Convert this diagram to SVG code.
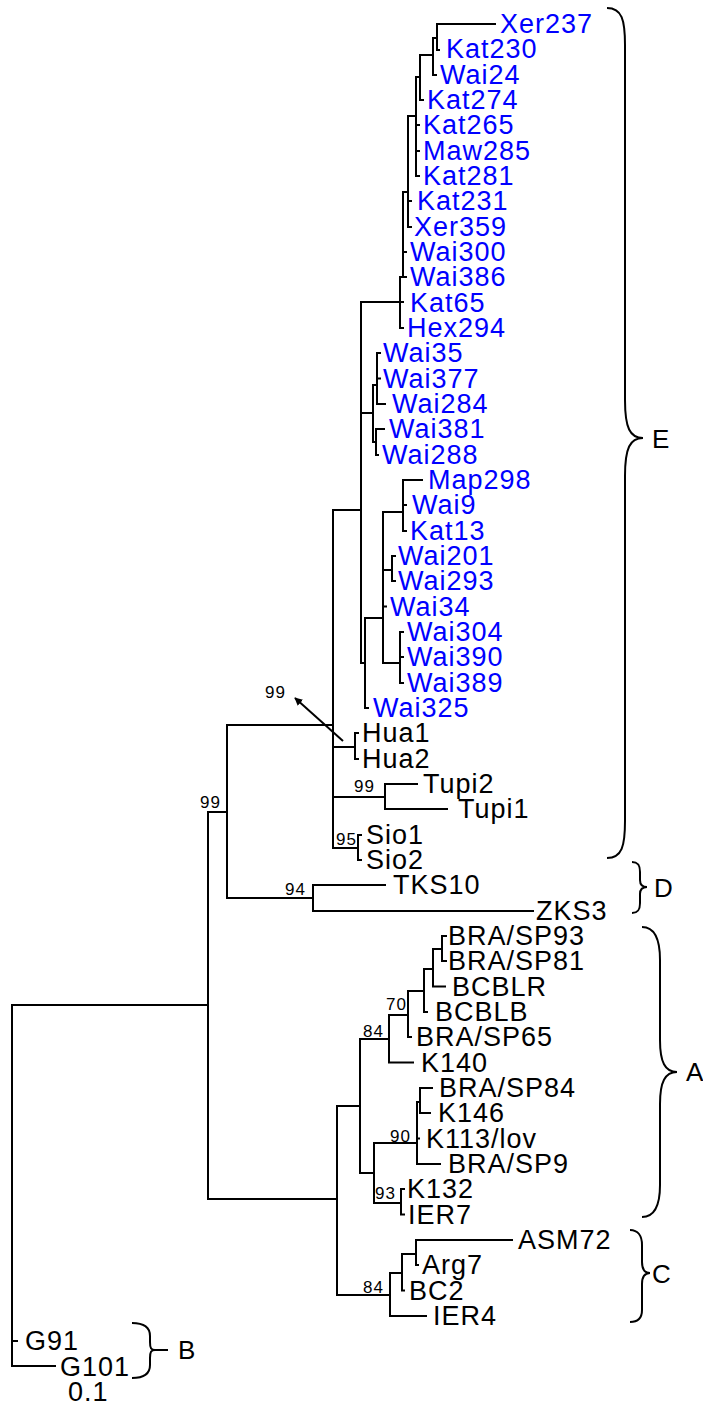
<svg xmlns="http://www.w3.org/2000/svg" width="703" height="1408" viewBox="0 0 703 1408">
<style>
.br{fill:none;stroke:#000;stroke-width:2;stroke-linecap:square}
.t{font-family:"Liberation Sans",Arial,sans-serif;font-size:27px;letter-spacing:1px;fill:#000}
.b{fill:#0000ff}
.s{font-family:"Liberation Sans",Arial,sans-serif;font-size:17px;letter-spacing:1px;fill:#000}
.brace{fill:none;stroke:#000;stroke-width:2}
.cl{font-family:"Liberation Sans",Arial,sans-serif;font-size:26px;fill:#000}
</style>
<defs>
<marker id="ah" viewBox="0 0 10 10" refX="9" refY="5" markerWidth="8" markerHeight="8" markerUnits="userSpaceOnUse" orient="auto">
<path d="M0,0 L10,5 L0,10 z" fill="#000"/>
</marker>
</defs>
<rect width="703" height="1408" fill="#fff"/>
<g id="connectors">
<path class="br" d="M437,24 H495 M437,24 V50 H439 M433,38 H437 M433,38 V75 H436 M420,55 H433 M420,55 V100 H423 M416,77 H420 M416,77 V176 H419 M416,125 H419 M416,151 H419 M408,116 H416 M408,116 V227 H411 M408,201 H411 M403,192 H408 M403,192 V277 H406 M403,252 H406 M400,277 H403 M400,277 V328 H403 M400,302 H403 M361,302 H400"/>
<path class="br" d="M361,413 H373 M373,385 V442 M373,385 H377 M377,353 V404 H385 M377,353 H380 M377,378.6 H380 M373,442 H376 M376,429 V455 H378 M376,429 H384"/>
<path class="br" d="M361,302 V663 H365 M365,618 V708 H368 M365,618 H383 M383,512 V663 H400 M383,512 H403 M403,480 V531 H406 M403,480 H422 M403,505 H406 M383,570 H392 M392,556 V581 H395 M392,556 H395 M383,606.6 H386 M400,632 V683 H403 M400,632 H403 M400,657 H403"/>
<path class="br" d="M333,510 H361 M333,510 V848 H358 M358,835 V860 H361 M358,835 H361 M333,747 H355 M355,733 V759 H358 M355,733 H358 M333,797 H385 M385,784 V809 M385,784 H417 M385,809 H447"/>
<path class="br" d="M227,725 H333 M227,725 V898 H313 M313,885 V911 M313,885 H385 M313,911 H533 M208,812 H227 M208,812 V1199 H337 M12,1005 H208 M12,1005 V1366 H55 M12,1341 H17"/>
<path class="br" d="M442,936 V961 H446 M442,936 H446 M433,949 H442 M433,949 V986.5 H445 M424,969 H433 M424,969 V1012 H427 M408,991 H424 M408,991 V1037 H411 M389,1015 H408 M389,1015 V1062.5 H413 M360,1039 H389 M360,1039 V1173 H374 M374,1143 V1203 H401 M374,1143 H417 M417,1102 V1164 H440 M417,1102 H420 M417,1138.5 H419 M420,1088 V1113 H430 M420,1088 H432 M401,1189 V1214.5 H404 M401,1189 H404 M337,1106 V1295 M337,1106 H360 M337,1295 H390 M390,1273 V1316 H426 M390,1273 H402 M402,1254 V1290.5 H404 M402,1254 H416 M416,1240 V1265 H418 M416,1240 H512"/>
<line x1="343" y1="741" x2="295" y2="698" stroke="#000" stroke-width="2" marker-end="url(#ah)"/>
</g>
<g id="support">
<text class="s" x="265" y="698">99</text>
<text class="s" x="200" y="808">99</text>
<text class="s" x="354" y="792">99</text>
<text class="s" x="336" y="845">95</text>
<text class="s" x="285" y="895">94</text>
<text class="s" x="386" y="1010">70</text>
<text class="s" x="363" y="1037">84</text>
<text class="s" x="390" y="1142">90</text>
<text class="s" x="375" y="1199">93</text>
<text class="s" x="363" y="1293">84</text>
</g>
<g id="n-Xer237"><text class="t b" x="500" y="33">Xer237</text></g>
<g id="n-Kat230"><text class="t b" x="446" y="58">Kat230</text></g>
<g id="n-Wai24"><text class="t b" x="440" y="84">Wai24</text></g>
<g id="n-Kat274"><text class="t b" x="427" y="109">Kat274</text></g>
<g id="n-Kat265"><text class="t b" x="423" y="134">Kat265</text></g>
<g id="n-Maw285"><text class="t b" x="423" y="160">Maw285</text></g>
<g id="n-Kat281"><text class="t b" x="423" y="185">Kat281</text></g>
<g id="n-Kat231"><text class="t b" x="417" y="210">Kat231</text></g>
<g id="n-Xer359"><text class="t b" x="414" y="236">Xer359</text></g>
<g id="n-Wai300"><text class="t b" x="410" y="261">Wai300</text></g>
<g id="n-Wai386"><text class="t b" x="410" y="286">Wai386</text></g>
<g id="n-Kat65"><text class="t b" x="410" y="312">Kat65</text></g>
<g id="n-Hex294"><text class="t b" x="407" y="337">Hex294</text></g>
<g id="n-Wai35"><text class="t b" x="383" y="362">Wai35</text></g>
<g id="n-Wai377"><text class="t b" x="383" y="388">Wai377</text></g>
<g id="n-Wai284"><text class="t b" x="392" y="413">Wai284</text></g>
<g id="n-Wai381"><text class="t b" x="389" y="438">Wai381</text></g>
<g id="n-Wai288"><text class="t b" x="382" y="464">Wai288</text></g>
<g id="n-Map298"><text class="t b" x="428" y="489">Map298</text></g>
<g id="n-Wai9"><text class="t b" x="412" y="514">Wai9</text></g>
<g id="n-Kat13"><text class="t b" x="410" y="540">Kat13</text></g>
<g id="n-Wai201"><text class="t b" x="398" y="565">Wai201</text></g>
<g id="n-Wai293"><text class="t b" x="398" y="590">Wai293</text></g>
<g id="n-Wai34"><text class="t b" x="390" y="616">Wai34</text></g>
<g id="n-Wai304"><text class="t b" x="407" y="641">Wai304</text></g>
<g id="n-Wai390"><text class="t b" x="407" y="666">Wai390</text></g>
<g id="n-Wai389"><text class="t b" x="407" y="692">Wai389</text></g>
<g id="n-Wai325"><text class="t b" x="373" y="717">Wai325</text></g>
<g id="n-Hua1"><text class="t" x="362" y="742">Hua1</text></g>
<g id="n-Hua2"><text class="t" x="362" y="768">Hua2</text></g>
<g id="n-Tupi2"><text class="t" x="423" y="793">Tupi2</text></g>
<g id="n-Tupi1"><text class="t" x="458" y="818">Tupi1</text></g>
<g id="n-Sio1"><text class="t" x="366" y="844">Sio1</text></g>
<g id="n-Sio2"><text class="t" x="366" y="869">Sio2</text></g>
<g id="n-TKS10"><text class="t" x="393" y="894">TKS10</text></g>
<g id="n-ZKS3"><text class="t" x="536" y="920">ZKS3</text></g>
<g id="n-BRASP93"><text class="t" x="448" y="945">BRA/SP93</text></g>
<g id="n-BRASP81"><text class="t" x="448" y="970">BRA/SP81</text></g>
<g id="n-BCBLR"><text class="t" x="452" y="996">BCBLR</text></g>
<g id="n-BCBLB"><text class="t" x="435" y="1021">BCBLB</text></g>
<g id="n-BRASP65"><text class="t" x="416" y="1046">BRA/SP65</text></g>
<g id="n-K140"><text class="t" x="421" y="1072">K140</text></g>
<g id="n-BRASP84"><text class="t" x="439" y="1097">BRA/SP84</text></g>
<g id="n-K146"><text class="t" x="438" y="1122">K146</text></g>
<g id="n-K113lov"><text class="t" x="426" y="1148">K113/lov</text></g>
<g id="n-BRASP9"><text class="t" x="448" y="1173">BRA/SP9</text></g>
<g id="n-K132"><text class="t" x="407" y="1198">K132</text></g>
<g id="n-IER7"><text class="t" x="408" y="1224">IER7</text></g>
<g id="n-ASM72"><text class="t" x="518" y="1249">ASM72</text></g>
<g id="n-Arg7"><text class="t" x="422" y="1274">Arg7</text></g>
<g id="n-BC2"><text class="t" x="409" y="1300">BC2</text></g>
<g id="n-IER4"><text class="t" x="433" y="1325">IER4</text></g>
<g id="n-G91"><text class="t" x="25" y="1350">G91</text></g>
<g id="n-G101"><text class="t" x="60" y="1376">G101</text></g>
<g id="scale"><text class="t" x="68" y="1401">0.1</text></g>
<g id="clade-E"><path class="brace" d="M607,8 C622,8 625,20 625,45 L625,400 C625,428 630,438 643,438 C630,438 625,448 625,476 L625,821 C625,846 622,858 607,858"/><text class="cl" x="652" y="448">E</text></g>
<g id="clade-D"><path class="brace" d="M632,862 C638,862 640,865 640,872 L640,880 C640,885 642,887 647,887 C642,887 640,889 640,894 L640,903 C640,910 638,913 632,913"/><text class="cl" x="654" y="897">D</text></g>
<g id="clade-A"><path class="brace" d="M642,927 C655,927 660,940 660,960 L660,1040 C660,1062 665,1072 677,1072 C665,1072 660,1082 660,1104 L660,1185 C660,1205 655,1217 642,1217"/><text class="cl" x="686" y="1081">A</text></g>
<g id="clade-C"><path class="brace" d="M630,1230 C638,1230 642,1236 642,1245 L642,1262 C642,1269 645,1273 650,1273 C645,1273 642,1277 642,1284 L642,1310 C642,1318 638,1322 630,1322"/><text class="cl" x="652" y="1283">C</text></g>
<g id="clade-B"><path class="brace" d="M132,1323 C145,1323 150,1328 150,1336 L150,1342 C150,1348 151,1350 155,1350 C151,1350 150,1352 150,1358 L150,1365 C150,1373 145,1378 132,1378 M152,1350 H168"/><text class="cl" x="178" y="1359">B</text></g>
</svg>
